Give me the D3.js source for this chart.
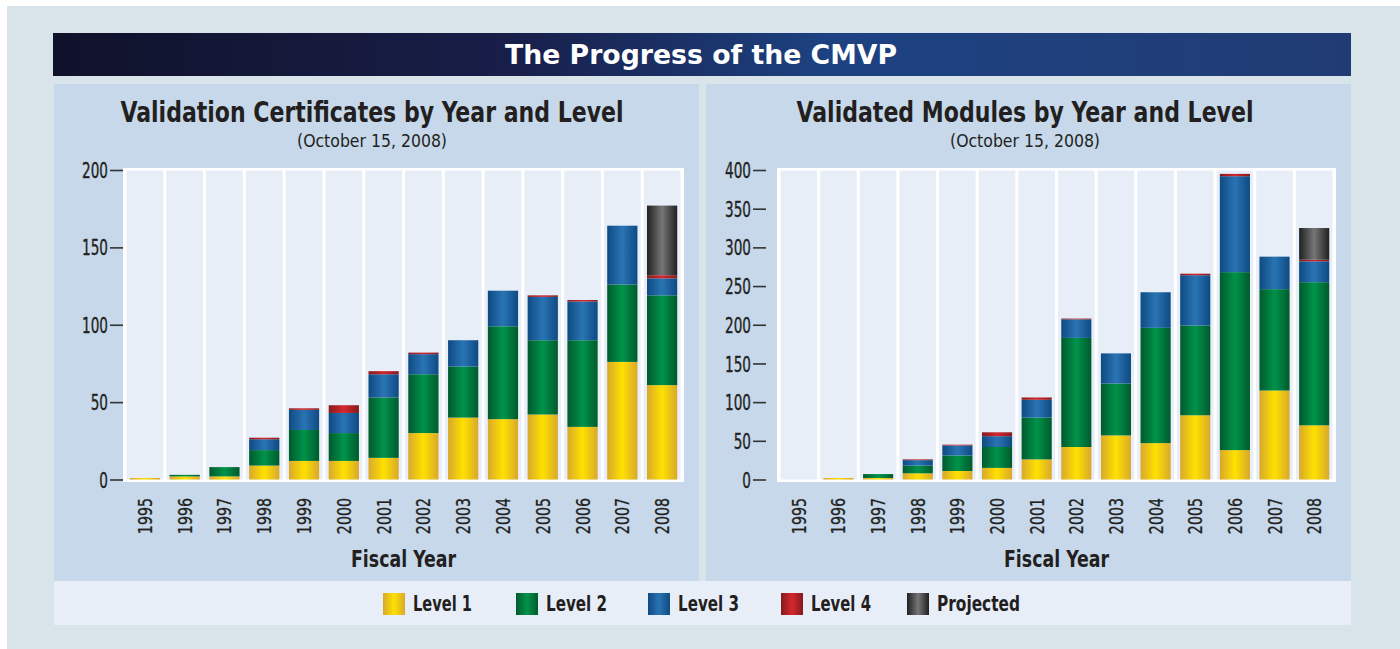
<!DOCTYPE html>
<html>
<head>
<meta charset="utf-8">
<script src="https://cdn.jsdelivr.net/npm/d3@7"></script>
<style>
  body { margin: 0; background: #ffffff; }
  svg text { font-family: "Liberation Sans Narrow", "DejaVu Sans Condensed", "DejaVu Sans", sans-serif; }
</style>
</head>
<body>
<div id="chart"></div>
<script>
const years = ["1995", "1996", "1997", "1998", "1999", "2000", "2001", "2002", "2003", "2004", "2005", "2006", "2007", "2008"];
const levels = ["Level 1", "Level 2", "Level 3", "Level 4", "Projected"];

// validation certificates
const certL1 = [1, 2, 2, 9, 12, 12, 14, 30, 40, 39, 42, 34, 76, 61];
const certL2 = [0, 1, 6, 10, 20, 18, 39, 38, 33, 60, 48, 56, 50, 58];
const certL3 = [0, 0, 0, 7, 13, 13, 15, 13, 17, 23, 28, 25, 38, 11];
const certL4 = [0, 0, 0, 1, 1, 5, 2, 1, 0, 0, 1, 1, 0, 2];
const certProj = [0, 0, 0, 0, 0, 0, 0, 0, 0, 0, 0, 0, 0, 45];

// validated modules
const modL1 = [0, 2, 2, 8, 11, 15, 26, 42, 57, 47, 83, 38, 115, 70];
const modL2 = [0, 0, 5, 10, 20, 27, 54, 141, 67, 149, 116, 230, 131, 185];
const modL3 = [0, 0, 0, 7, 13, 14, 23, 24, 39, 46, 65, 124, 42, 27];
const modL4 = [0, 0, 0, 1, 1, 5, 3, 1, 0, 0, 2, 3, 0, 2];
const modProj = [0, 0, 0, 0, 0, 0, 0, 0, 0, 0, 0, 0, 0, 41];

const certTicks = [0, 50, 100, 150, 200];
const modTicks = [0, 50, 100, 150, 200, 250, 300, 350, 400];

const width = 1400, height = 649;

// no condensed font here, so squeeze text horizontally
function squeeze(sel, f) {
    sel.each(function () {
        var w = this.getComputedTextLength();
        d3.select(this).attr("textLength", w * f).attr("lengthAdjust", "spacingAndGlyphs");
    });
}
function fitTo(sel, w) {
    sel.attr("textLength", w).attr("lengthAdjust", "spacingAndGlyphs");
}

var svg = d3.select("#chart")
    .append("svg")
    .attr("width", width)
    .attr("height", height);

var defs = svg.append("defs");

// horizontal shaded gradients like the original bars
var shades = {
    "Level 1": ["#d8a82c", "#ffe100"],
    "Level 2": ["#005a2d", "#00934a"],
    "Level 3": ["#0e4a83", "#2a74b4"],
    "Level 4": ["#861a1d", "#d4272c"],
    "Projected": ["#202020", "#767676"]
};
levels.forEach((lv, i) => {
    var g = defs.append("linearGradient").attr("id", "grad" + i)
        .attr("x1", "0%").attr("x2", "100%").attr("y1", "0%").attr("y2", "0%");
    g.append("stop").attr("offset", "0%").attr("stop-color", shades[lv][0]);
    g.append("stop").attr("offset", "50%").attr("stop-color", shades[lv][1]);
    g.append("stop").attr("offset", "100%").attr("stop-color", shades[lv][0]);
});

var band = defs.append("linearGradient").attr("id", "band")
    .attr("x1", "0%").attr("x2", "100%");
band.append("stop").attr("offset", "0%").attr("stop-color", "#10122a");
band.append("stop").attr("offset", "35%").attr("stop-color", "#181e48");
band.append("stop").attr("offset", "60%").attr("stop-color", "#1d4282");
band.append("stop").attr("offset", "100%").attr("stop-color", "#213c74");

// background pieces
svg.append("rect").attr("x", 7).attr("y", 6).attr("width", width - 7).attr("height", height - 6).style("fill", "#d8e3ea");
svg.append("rect").attr("x", 53).attr("y", 33).attr("width", 1298).attr("height", 43).style("fill", "url(#band)");
svg.append("text")
    .attr("x", 701).attr("y", 64)
    .style("font-family", "'DejaVu Sans', sans-serif")
    .style("font-weight", "bold")
    .style("font-size", "26px")
    .style("fill", "#ffffff")
    .style("text-anchor", "middle")
    .text("The Progress of the CMVP")
    .call(fitTo, 392);

svg.append("rect").attr("x", 54).attr("y", 84).attr("width", 645).attr("height", 497).style("fill", "#c6d8ea");
svg.append("rect").attr("x", 706).attr("y", 84).attr("width", 645).attr("height", 497).style("fill", "#c6d8ea");
svg.append("rect").attr("x", 54).attr("y", 581).attr("width", 1297).attr("height", 44).style("fill", "#e8eef8");

function drawPanel(opts) {
    var rows = years.map((y, i) => {
        var r = { year: y };
        opts.series.forEach((s, j) => { r[levels[j]] = s[i]; });
        return r;
    });
    var stacked = d3.stack().keys(levels)(rows);

    var xscale = d3.scaleBand().domain(years).range([opts.x0, opts.x1]).padding(0);
    var yscale = d3.scaleLinear().domain([0, opts.max]).range([479.5, 170]);

    // plot frame + columns
    svg.append("rect")
        .attr("x", opts.x0 - 2).attr("y", 168)
        .attr("width", opts.x1 - opts.x0 + 4).attr("height", 314)
        .style("fill", "#ffffff");
    svg.append("g").selectAll("rect")
        .data(years)
        .enter()
        .append("rect")
        .attr("x", d => xscale(d) + 1.5)
        .attr("y", 170.5)
        .attr("width", xscale.bandwidth() - 3)
        .attr("height", 309)
        .style("fill", "#e8eef8");

    var bw = xscale.bandwidth() * 0.76;
    stacked.forEach((layer, i) => {
        svg.append("g").selectAll("rect")
            .data(layer)
            .enter()
            .append("rect")
            .attr("x", d => xscale(d.data.year) + (xscale.bandwidth() - bw) / 2)
            .attr("y", d => yscale(d[1]))
            .attr("width", bw)
            .attr("height", d => yscale(d[0]) - yscale(d[1]))
            .style("fill", "url(#grad" + i + ")");
    });

    // y axis
    var yaxis = svg.append("g")
        .attr("transform", `translate(${opts.axisX}, 0)`)
        .call(d3.axisRight(yscale).tickValues(opts.ticks).tickSize(13).tickPadding(0).tickFormat(d3.format("d")));
    yaxis.select(".domain").remove();
    yaxis.selectAll(".tick line").style("stroke", "#333").style("stroke-width", 1.6);
    yaxis.selectAll(".tick text")
        .attr("x", -2)
        .attr("dy", "0.36em")
        .style("text-anchor", "end")
        .style("font-size", "21px")
        .style("fill", "#231f20")
        .style("stroke", "#231f20")
        .style("stroke-width", 0.35)
        .call(squeeze, 0.72);

    // x labels
    svg.append("g").selectAll("text")
        .data(years)
        .enter()
        .append("text")
        .attr("transform", d => `translate(${xscale(d) + xscale.bandwidth() / 2 + 7}, 498) rotate(-90)`)
        .style("text-anchor", "end")
        .style("font-size", "20px")
        .style("fill", "#231f20")
        .style("stroke", "#231f20")
        .style("stroke-width", 0.3)
        .text(d => d)
        .call(squeeze, 0.79);

    svg.append("text")
        .attr("x", (opts.x0 + opts.x1) / 2).attr("y", 567)
        .style("text-anchor", "middle")
        .style("font-size", "23px")
        .style("font-weight", "bold")
        .style("fill", "#231f20")
        .text("Fiscal Year")
        .call(fitTo, 105);

    svg.append("text")
        .attr("x", opts.titleX).attr("y", 122)
        .style("text-anchor", "middle")
        .style("font-size", "28px")
        .style("font-weight", "bold")
        .style("fill", "#231f20")
        .text(opts.title)
        .call(fitTo, opts.titleW);
    svg.append("text")
        .attr("x", opts.titleX).attr("y", 147)
        .style("text-anchor", "middle")
        .style("font-size", "18px")
        .style("fill", "#231f20")
        .text("(October 15, 2008)")
        .call(fitTo, 150);
}

drawPanel({
    series: [certL1, certL2, certL3, certL4, certProj],
    max: 200, ticks: certTicks,
    x0: 125, x1: 682, axisX: 110, titleX: 372, titleW: 503,
    title: "Validation Certificates by Year and Level"
});
drawPanel({
    series: [modL1, modL2, modL3, modL4, modProj],
    max: 400, ticks: modTicks,
    x0: 779, x1: 1334, axisX: 753, titleX: 1025, titleW: 457,
    title: "Validated Modules by Year and Level"
});

// legend
var legendX = [383, 516, 648, 781, 907];
var legendW = [59, 61, 61, 60, 83];
var legend = svg.append("g").selectAll("g")
    .data(levels)
    .enter()
    .append("g")
    .attr("transform", (d, i) => `translate(${legendX[i]}, 593)`);
legend.append("rect")
    .attr("width", 22).attr("height", 22)
    .style("fill", (d, i) => "url(#grad" + i + ")");
legend.append("text")
    .attr("x", 30).attr("y", 18)
    .style("font-size", "21px")
    .style("font-weight", "bold")
    .style("fill", "#231f20")
    .text(d => d)
    .attr("textLength", (d, i) => legendW[i])
    .attr("lengthAdjust", "spacingAndGlyphs");
</script>
</body>
</html>
